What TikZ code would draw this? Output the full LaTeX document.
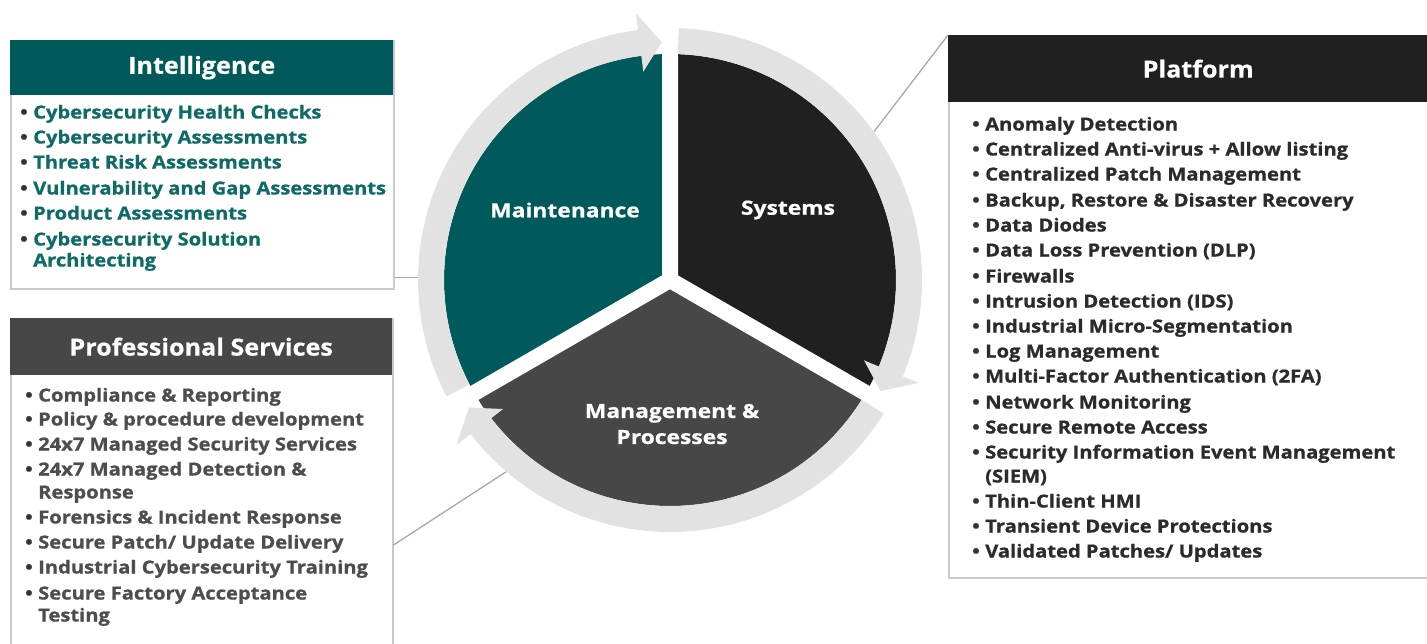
\documentclass[tikz,border=0pt]{standalone}
\usepackage{fontspec}
\setmainfont{Open Sans}[BoldFeatures={FakeStretch=1.12,FakeBold=0.8}]
\newfontfamily\hdrfont{Open Sans}[BoldFeatures={FakeStretch=1.07,FakeBold=0.5}]
\newfontfamily\lblfont{Open Sans}[BoldFeatures={FakeStretch=1.17,FakeBold=0.8}]
\definecolor{cteal}{HTML}{005A5B}
\definecolor{ctealt}{HTML}{0E6B67}
\definecolor{cdark}{HTML}{202020}
\definecolor{cgray}{HTML}{474747}
\definecolor{cring}{HTML}{E2E2E2}
\definecolor{cborder}{HTML}{C9C9C9}
\definecolor{cline}{HTML}{A8A8A8}
\definecolor{cps}{HTML}{4D4D4D}
\definecolor{cpl}{HTML}{2B2B2B}
\definecolor{cbul}{HTML}{333333}
\newcommand{\bul}{\makebox[13pt][l]{\color{cbul}\textbullet}}
\begin{document}
\begin{tikzpicture}[x=1pt,y=-1pt,
  box/.style={draw=cborder,line width=1.5pt,fill=white,anchor=north west,inner sep=0pt},
  hdr/.style={anchor=north west,inner sep=0pt,text=white,font=\hdrfont\bfseries\fontsize{23.5}{26}\selectfont},
  itm/.style={anchor=west,inner sep=0pt,text height=13pt,text depth=2pt,font=\bfseries\fontsize{18}{20}\selectfont},
  lbl/.style={text=white,font=\lblfont\bfseries\fontsize{19.5}{26}\selectfont,align=center},
  conn/.style={draw=cline,line width=1.3pt},
  ringc/.style={fill=cring}]
\useasboundingbox (0,0) rectangle (1427,643);
\clip (0,0) rectangle (1427,643);
% ring anchor coordinates
\begin{scope}[shift={(670,280)},yscale=-1]
  \coordinate (ra) at (179.5:252);
  \coordinate (rb) at (229.5:252);
  \coordinate (rc) at (36:252);
\end{scope}
% boxes
\node[box,minimum width=383pt,minimum height=248pt] (intel) at (10,40) {};
\node[hdr,fill=cteal,minimum width=383pt,minimum height=55pt] (intelh) at (10,40) {Intelligence};
\node[box,minimum width=382pt,minimum height=340pt] (ps) at (10,318) {};
\node[hdr,fill=cgray,minimum width=382pt,minimum height=57pt] (psh) at (10,318) {Professional Services};
\node[box,minimum width=500pt,minimum height=542pt] (plat) at (948,35) {};
\node[hdr,fill=cdark,minimum width=500pt,minimum height=67pt] (plath) at (948,35) {Platform};
% connectors
\coordinate (psc) at (ps.east |- 0,545);
\draw[conn] (intel.east |- ra) -- (ra);
\draw[conn] (psc) -- (rb);
\draw[conn] (plat.north west) -- (rc);
% Intelligence items
\begin{scope}[every node/.append style={itm,text=ctealt}]
\node (i1) at (20,113) {\bul Cybersecurity Health Checks};
\node (i2) at (20,138) {\bul Cybersecurity Assessments};
\node (i3) at (20,163) {\bul Threat Risk Assessments};
\node (i4) at (20,189) {\bul Vulnerability and Gap Assessments};
\node (i5) at (20,214) {\bul Product Assessments};
\node (i6) at (20,240) {\bul Cybersecurity Solution};
\node (i6b) at (33,261) {Architecting};
\end{scope}
% Professional services items
\begin{scope}[every node/.append style={itm,text=cps}]
\node (p1) at (25,396) {\bul Compliance \& Reporting};
\node (p2) at (25,420) {\bul Policy \& procedure development};
\node (p3) at (25,445) {\bul 24x7 Managed Security Services};
\node (p4) at (25,470) {\bul 24x7 Managed Detection \&};
\node (p4b) at (38,493) {Response};
\node (p5) at (25,518) {\bul Forensics \& Incident Response};
\node (p6) at (25,543) {\bul Secure Patch/ Update Delivery};
\node (p7) at (25,568) {\bul Industrial Cybersecurity Training};
\node (p8) at (25,594) {\bul Secure Factory Acceptance};
\node (p8b) at (38,616) {Testing};
\end{scope}
% Platform items
\begin{scope}[every node/.append style={itm,text=cpl}]
\node (q1) at (972,125) {\bul Anomaly Detection};
\node (q2) at (972,150) {\bul Centralized Anti-virus + Allow listing};
\node (q3) at (972,175) {\bul Centralized Patch Management};
\node (q4) at (972,201) {\bul Backup, Restore \& Disaster Recovery};
\node (q5) at (972,226) {\bul Data Diodes};
\node (q6) at (972,251) {\bul Data Loss Prevention (DLP)};
\node (q7) at (972,277) {\bul Firewalls};
\node (q8) at (972,302) {\bul Intrusion Detection (IDS)};
\node (q9) at (972,327) {\bul Industrial Micro-Segmentation};
\node (q10) at (972,352) {\bul Log Management};
\node (q11) at (972,377) {\bul Multi-Factor Authentication (2FA)};
\node (q12) at (972,403) {\bul Network Monitoring};
\node (q13) at (972,428) {\bul Secure Remote Access};
\node (q14) at (972,453) {\bul Security Information Event Management};
\node (q14b) at (985,477) {(SIEM)};
\node (q15) at (972,502) {\bul Thin-Client HMI};
\node (q16) at (972,527) {\bul Transient Device Protections};
\node (q17) at (972,552) {\bul Validated Patches/ Updates};
\end{scope}
% cycle
\begin{scope}[shift={(670,280)},yscale=-1]
  \fill[cteal] (0,0) -- (90:226) arc[start angle=90,end angle=210,radius=226] -- cycle;
  \fill[cdark] (0,0) -- (-30:226) arc[start angle=-30,end angle=90,radius=226] -- cycle;
  \fill[cgray] (0,0) -- (210:226) arc[start angle=210,end angle=330,radius=226] -- cycle;
  \draw[white,line width=16pt] (0,0) -- (90:240) (0,0) -- (210:240) (0,0) -- (330:240);
  \fill[white] (0,0) circle[radius=8];
  \fill[ringc] (207.5:252) arc[start angle=207.5,end angle=97.3,radius=252] -- (97.3:269) -- (92:238) -- (97.3:210) -- (97.3:226) arc[start angle=97.3,end angle=207.5,radius=226] -- cycle;
  \fill[ringc] (88:252) arc[start angle=88,end angle=-22.5,radius=252] -- (-22.5:269) -- (-27.8:238) -- (-22.5:210) -- (-22.5:226) arc[start angle=-22.5,end angle=88,radius=226] -- cycle;
  \fill[ringc] (328:252) arc[start angle=328,end angle=217.7,radius=252] -- (217.7:270) -- (212.4:238) -- (217.7:211) -- (217.7:226) arc[start angle=217.7,end angle=328,radius=226] -- cycle;
\end{scope}
\node[lbl] (lm) at (565,210) {Maintenance};
\node[lbl] (ls) at (788,210) {Systems};
\node[lbl] (lp) at (672,424) {Management \&\\Processes};
\end{tikzpicture}
\end{document}
